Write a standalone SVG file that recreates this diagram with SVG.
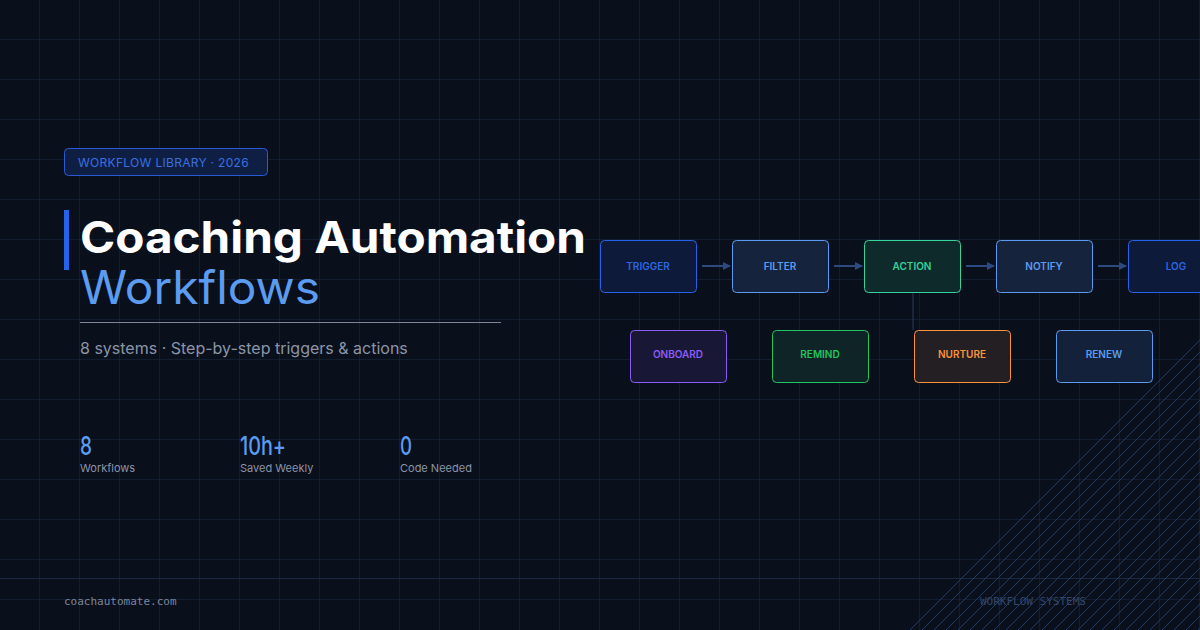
<svg xmlns="http://www.w3.org/2000/svg" width="1200" height="630" viewBox="0 0 1200 630">
<defs>
<pattern id="grid" width="40" height="40" patternUnits="userSpaceOnUse"><path d="M40 0V40M0 40H40" fill="none" stroke="#1b2943" stroke-width="1"/></pattern>
<marker id="arr" markerWidth="8" markerHeight="8" refX="7" refY="4" orient="auto" markerUnits="userSpaceOnUse"><path d="M0 0L8 4L0 8Z" fill="#2c4a80"/></marker>
<clipPath id="tri"><path d="M1200 330L1200 630L900 630Z"/></clipPath>
</defs>
<style>
.n{font-family:Inter,"Liberation Sans",sans-serif;font-size:10px;font-weight:600;text-anchor:middle}
.lbl{font-family:Inter,"Liberation Sans",sans-serif;font-size:11px;fill:#8b95a7}
.num{font-family:Inter,"Liberation Sans",sans-serif;font-size:26px;fill:#5b9cf0;font-weight:500}
.mono{font-family:"DejaVu Sans Mono","Liberation Mono",monospace;font-size:11px}
</style>
<rect width="1200" height="630" fill="#0a0f1c"/>
<rect width="1200" height="630" fill="url(#grid)"/>
<line x1="0" y1="578.5" x2="1200" y2="578.5" stroke="#1b2943"/>
<g clip-path="url(#tri)" stroke="#243a66" stroke-width="1">
<path d="M900 640L1220 320M912 640L1232 320M924 640L1244 320M936 640L1256 320M948 640L1268 320M960 640L1280 320M972 640L1292 320M984 640L1304 320M996 640L1316 320M1008 640L1328 320M1020 640L1340 320M1032 640L1352 320M1044 640L1364 320M1056 640L1376 320M1068 640L1388 320M1080 640L1400 320M1092 640L1412 320M1104 640L1424 320M1116 640L1436 320M1128 640L1448 320M1140 640L1460 320M1152 640L1472 320M1164 640L1484 320M1176 640L1496 320M1188 640L1508 320"/>
</g>
<g id="badge">
<rect x="64.5" y="148.5" width="203" height="27" rx="4" fill="#0f1f44" stroke="#2a5bd7"/>
<text x="78" y="167" font-family="Inter,'Liberation Sans',sans-serif" font-size="12" fill="#3b6fe0" letter-spacing="0.3">WORKFLOW LIBRARY  · 2026</text>
</g>
<g id="title">
<rect x="64" y="210" width="5" height="60" fill="#2563eb"/>
<text x="80" y="253" font-family="Inter,'Liberation Sans',sans-serif" font-size="44" font-weight="700" fill="#ffffff" textLength="506" lengthAdjust="spacingAndGlyphs">Coaching Automation</text>
<text x="80" y="304" font-family="Inter,'Liberation Sans',sans-serif" font-size="46" fill="#5b9cf0" textLength="240" lengthAdjust="spacingAndGlyphs">Workflows</text>
<line x1="80" y1="322.5" x2="501" y2="322.5" stroke="#7b869b"/>
<text x="80" y="354" font-family="Inter,'Liberation Sans',sans-serif" font-size="16" fill="#8b95a7">8 systems · Step-by-step triggers &amp; actions</text>
</g>
<g id="stats">
<text class="num" x="80" y="455" textLength="12" lengthAdjust="spacingAndGlyphs">8</text>
<text class="lbl" x="80" y="472">Workflows</text>
<text class="num" x="240" y="455" textLength="46" lengthAdjust="spacingAndGlyphs">10h+</text>
<text class="lbl" x="240" y="472">Saved Weekly</text>
<text class="num" x="400" y="455" textLength="12" lengthAdjust="spacingAndGlyphs">0</text>
<text class="lbl" x="400" y="472">Code Needed</text>
</g>
<g id="connectors" stroke="#2c4a80" stroke-width="2" fill="none">
<line x1="702" y1="266" x2="730" y2="266" marker-end="url(#arr)"/>
<line x1="834" y1="266" x2="862" y2="266" marker-end="url(#arr)"/>
<line x1="966" y1="266" x2="994" y2="266" marker-end="url(#arr)"/>
<line x1="1098" y1="266" x2="1126" y2="266" marker-end="url(#arr)"/>
<line x1="913" y1="292" x2="913" y2="330" stroke-width="1" stroke="#2a3a5a"/>
</g>
<g id="n-trigger"><rect x="600.5" y="240.5" width="96" height="52" rx="4" fill="#0d1a3a" stroke="#2563eb"/><text class="n" x="648" y="270" fill="#2d66e0">TRIGGER</text></g>
<g id="n-filter"><rect x="732.5" y="240.5" width="96" height="52" rx="4" fill="#16233d" stroke="#5b9cf0"/><text class="n" x="780" y="270" fill="#5b9cf0">FILTER</text></g>
<g id="n-action"><rect x="864.5" y="240.5" width="96" height="52" rx="4" fill="#0f2a2a" stroke="#34d399"/><text class="n" x="912" y="270" fill="#34d399">ACTION</text></g>
<g id="n-notify"><rect x="996.5" y="240.5" width="96" height="52" rx="4" fill="#16233d" stroke="#5b9cf0"/><text class="n" x="1044" y="270" fill="#5b9cf0">NOTIFY</text></g>
<g id="n-log"><rect x="1128.5" y="240.5" width="96" height="52" rx="4" fill="#0d1a3a" stroke="#2563eb"/><text class="n" x="1176" y="270" fill="#2d66e0">LOG</text></g>
<g id="n-onboard"><rect x="630.5" y="330.5" width="96" height="52" rx="4" fill="#181736" stroke="#8b5cf6"/><text class="n" x="678" y="358" fill="#8b5cf6">ONBOARD</text></g>
<g id="n-remind"><rect x="772.5" y="330.5" width="96" height="52" rx="4" fill="#0f2426" stroke="#22c55e"/><text class="n" x="820" y="358" fill="#22c55e">REMIND</text></g>
<g id="n-nurture"><rect x="914.5" y="330.5" width="96" height="52" rx="4" fill="#231f22" stroke="#fb923c"/><text class="n" x="962" y="358" fill="#fb923c">NURTURE</text></g>
<g id="n-renew"><rect x="1056.5" y="330.5" width="96" height="52" rx="4" fill="#14213a" stroke="#5b9cf0"/><text class="n" x="1104" y="358" fill="#5b9cf0">RENEW</text></g>
<text class="mono" x="64" y="605" fill="#7b869b">coachautomate.com</text>
<text class="mono" x="980" y="605" fill="#34466b">WORKFLOW SYSTEMS</text>
</svg>
